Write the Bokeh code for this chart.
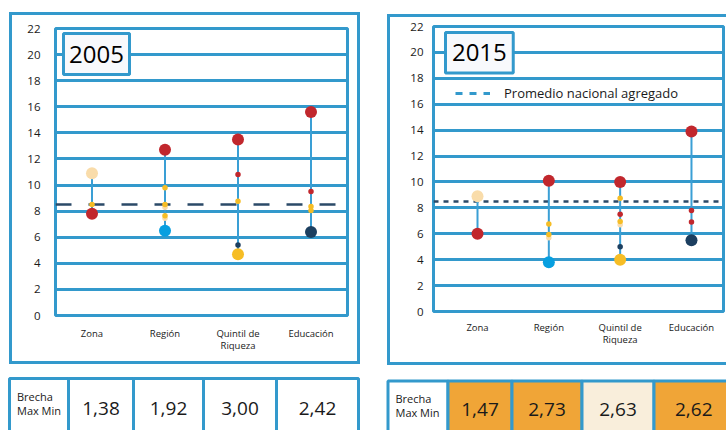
from bokeh.plotting import figure
from bokeh.models import (Range1d, FixedTicker, Span, BoxAnnotation, Label,
                          Legend, LegendItem)
from bokeh.layouts import row, column
from bokeh.embed import file_html
from bokeh.resources import INLINE
from bokeh.core.properties import value

# ---------------- data ----------------
CATEGORIAS = ["Zona", "Región", "Quintil de\nRiqueza", "Educación"]
Y_TICKS = [0, 2, 4, 6, 8, 10, 12, 14, 16, 18, 20, 22]

# 2005
MAX_2005 = [10.9, 12.7, 13.5, 15.6]
MAX_GRUPO_2005 = ["crema", "rojo", "rojo", "rojo"]
MIN_2005 = [7.8, 6.5, 4.7, 6.4]
MIN_GRUPO_2005 = ["rojo", "azul", "amarillo", "marino"]
PUNTO_CAT_2005 = [0, 1, 1, 1, 1, 1, 2, 2, 2, 3, 3, 3]
PUNTO_VAL_2005 = [8.5, 9.8, 8.3, 8.5, 7.45, 7.65, 10.8, 8.75, 5.4, 9.5, 8.35, 8.05]
PUNTO_GRUPO_2005 = ["amarillo", "amarillo", "crema", "amarillo", "crema", "amarillo",
                    "rojo", "amarillo", "marino", "rojo", "amarillo", "amarillo"]
PROMEDIO_2005 = 8.5
BRECHA_2005 = [1.38, 1.92, 3.00, 2.42]
NIVEL_2005 = ["ninguno", "ninguno", "ninguno", "ninguno"]

# 2015
MAX_2015 = [8.9, 10.1, 10.0, 13.9]
MAX_GRUPO_2015 = ["crema", "rojo", "rojo", "rojo"]
MIN_2015 = [6.0, 3.8, 4.0, 5.5]
MIN_GRUPO_2015 = ["rojo", "azul", "amarillo", "marino"]
PUNTO_CAT_2015 = [1, 1, 1, 2, 2, 2, 2, 2, 3, 3]
PUNTO_VAL_2015 = [6.75, 5.7, 5.95, 8.75, 7.5, 6.7, 6.95, 5.0, 7.8, 6.9]
PUNTO_GRUPO_2015 = ["amarillo", "crema", "amarillo", "amarillo", "rojo", "crema",
                    "amarillo", "marino", "rojo", "rojo"]
PROMEDIO_2015 = 8.5
BRECHA_2015 = [1.47, 2.73, 2.63, 2.62]
NIVEL_2015 = ["alta", "alta", "media", "alta"]

ENCABEZADO = ["Brecha", "Max Min"]

# ---------------- styles ----------------
PALETA = {"rojo": "#c1272d", "crema": "#f9dcaa", "amarillo": "#f6bd25",
          "azul": "#079fe0", "marino": "#1c3f60"}
NIVEL_COLOR = {"ninguno": "white", "alta": "#f0a537", "media": "#f9eedb"}
AZUL = "#3399cc"
TALLO = "#3a9fd5"
FONT = "Open Sans"
TXT = "#1a1a1a"


def chart(year, maxv, maxg, minv, ming, pcat, pval, pgrp, prom, cfg):
    p = figure(width=cfg["w"], height=cfg["h"], x_range=Range1d(*cfg["xr"]),
               y_range=Range1d(0, 22), output_backend="svg", toolbar_location=None,
               min_border_left=cfg["bl"], min_border_right=cfg["br"],
               min_border_top=cfg["bt"], min_border_bottom=cfg["bb"])
    p.background_fill_color = "white"
    p.border_fill_color = "white"
    p.outline_line_color = AZUL
    p.outline_line_width = 3

    p.xgrid.visible = False
    p.ygrid.ticker = FixedTicker(ticks=Y_TICKS)
    p.ygrid.grid_line_color = AZUL
    p.ygrid.grid_line_width = 3

    p.yaxis.ticker = FixedTicker(ticks=Y_TICKS)
    p.xaxis.ticker = FixedTicker(ticks=list(range(len(CATEGORIAS))))
    p.xaxis.major_label_overrides = {i: c for i, c in enumerate(CATEGORIAS)}
    for ax in (p.xaxis, p.yaxis):
        ax.axis_line_color = None
        ax.major_tick_line_color = None
        ax.minor_tick_line_color = None
        ax.major_tick_out = 0
        ax.major_tick_in = 0
        ax.major_label_text_font = FONT
        ax.major_label_text_color = TXT
    p.yaxis.major_label_text_font_size = "11.5px"
    p.yaxis.major_label_text_align = "center"
    p.yaxis.major_label_standoff = cfg["ystand"]
    p.xaxis.major_label_text_font_size = "9.5px"
    p.xaxis.major_label_text_line_height = 0.95
    p.xaxis.major_label_standoff = cfg["xstand"]

    cats = list(range(len(CATEGORIAS)))
    # national average
    p.add_layout(Span(location=prom, dimension="width", line_color="#2b4a68",
                      line_width=2.5, line_dash=cfg["dash"], level="underlay"))
    # stems
    p.segment(x0=cats, y0=minv, x1=cats, y1=maxv, line_color=TALLO, line_width=2)
    # small points
    p.scatter(x=pcat, y=pval, size=5.5, line_color=None,
              fill_color=[PALETA[g] for g in pgrp])
    # big points
    p.scatter(x=cats, y=maxv, size=12, line_color=None,
              fill_color=[PALETA[g] for g in maxg])
    p.scatter(x=cats, y=minv, size=12, line_color=None,
              fill_color=[PALETA[g] for g in ming])

    # year box
    l, r, b, t = cfg["ybox"]
    p.add_layout(BoxAnnotation(left=l, right=r, bottom=b, top=t, fill_color="#f8f9fc",
                               fill_alpha=1, line_color=AZUL, line_width=3, line_alpha=1))
    p.add_layout(Label(x=(l + r) / 2, y=(b + t) / 2, text=year, text_align="center",
                       text_baseline="middle", text_font=FONT,
                       text_font_size="24px", text_color="black"))
    return p


def table(vals, niveles, cfg):
    x0, x1 = cfg["xr"]
    t = figure(width=x1 - x0, height=65, x_range=Range1d(x0, x1),
               y_range=Range1d(430, 365), x_axis_type=None, y_axis_type=None,
               output_backend="svg", toolbar_location=None, min_border=0)
    t.outline_line_color = None
    t.background_fill_color = "white"
    t.border_fill_color = "white"
    e = cfg["edges"]
    t.quad(left=e[:-1], right=e[1:], top=cfg["top"], bottom=445,
           fill_color=["white"] + [NIVEL_COLOR[n] for n in niveles],
           line_color=AZUL, line_width=3)
    centers = [(e[i + 1] + e[i + 2]) / 2 for i in range(len(vals))]
    t.text(x=centers, y=[cfg["ty"]] * len(vals),
           text=[f"{v:.2f}".replace(".", ",") for v in vals],
           text_align="center", text_baseline="middle", text_font=value(FONT),
           text_font_size="19px", text_color=TXT)
    t.text(x=[cfg["hx"]] * len(ENCABEZADO), y=cfg["hy"], text=ENCABEZADO,
           text_align="left", text_baseline="middle", text_font=value(FONT),
           text_font_size="11px", text_color=TXT)
    return t


cfg05 = dict(w=345, h=346, xr=(-0.5, 3.5), bl=43, br=10, bt=13, bb=46, ystand=15,
             xstand=11, dash="16 17", ybox=(-0.39, 0.514, 18.47, 21.62))
cfg15 = dict(w=336, h=345, xr=(-0.617, 3.449), bl=43, br=3, bt=9, bb=51, ystand=10,
             xstand=9, dash="5 5", ybox=(-0.449, 0.501, 18.41, 21.54))

p05 = chart("2005", MAX_2005, MAX_GRUPO_2005, MIN_2005, MIN_GRUPO_2005,
            PUNTO_CAT_2005, PUNTO_VAL_2005, PUNTO_GRUPO_2005, PROMEDIO_2005, cfg05)
p15 = chart("2015", MAX_2015, MAX_GRUPO_2015, MIN_2015, MIN_GRUPO_2015,
            PUNTO_CAT_2015, PUNTO_VAL_2015, PUNTO_GRUPO_2015, PROMEDIO_2015, cfg15)

# legend (2015 panel)
dummy = p15.line(x=[float("nan")], y=[float("nan")], line_color=AZUL, line_width=3,
                 line_dash="7 7")
leg = Legend(items=[LegendItem(label="Promedio nacional agregado", renderers=[dummy])],
             location=(22, 208), padding=0, margin=0, glyph_width=35, glyph_height=20,
             label_standoff=14, label_text_font=FONT, label_text_font_size="13px",
             label_text_color=TXT, background_fill_alpha=0, border_line_color=None)
p15.add_layout(leg)

t05 = table(BRECHA_2005, NIVEL_2005, dict(xr=(0, 360), edges=[9, 68, 133, 203, 276, 358],
                                          top=378, ty=408, hx=16.5, hy=[396, 410]))
t15 = table(BRECHA_2015, NIVEL_2015, dict(xr=(360, 726),
                                          edges=[387.5, 447.5, 511.5, 581.5, 653.5, 733],
                                          top=380.5, ty=409, hx=395, hy=[397.5, 412]))

box05 = column(p05, styles={"border": "3px solid #3399cc", "box-sizing": "content-box",
                            "margin-left": "9px", "margin-top": "12px"})
box15 = column(p15, styles={"border": "3px solid #3399cc", "border-right": "none",
                            "box-sizing": "content-box", "margin-left": "27px",
                            "margin-top": "14px"})

layout = column(row(box05, box15), row(t05, t15))
open("out.html", "w").write(file_html(layout, INLINE))
